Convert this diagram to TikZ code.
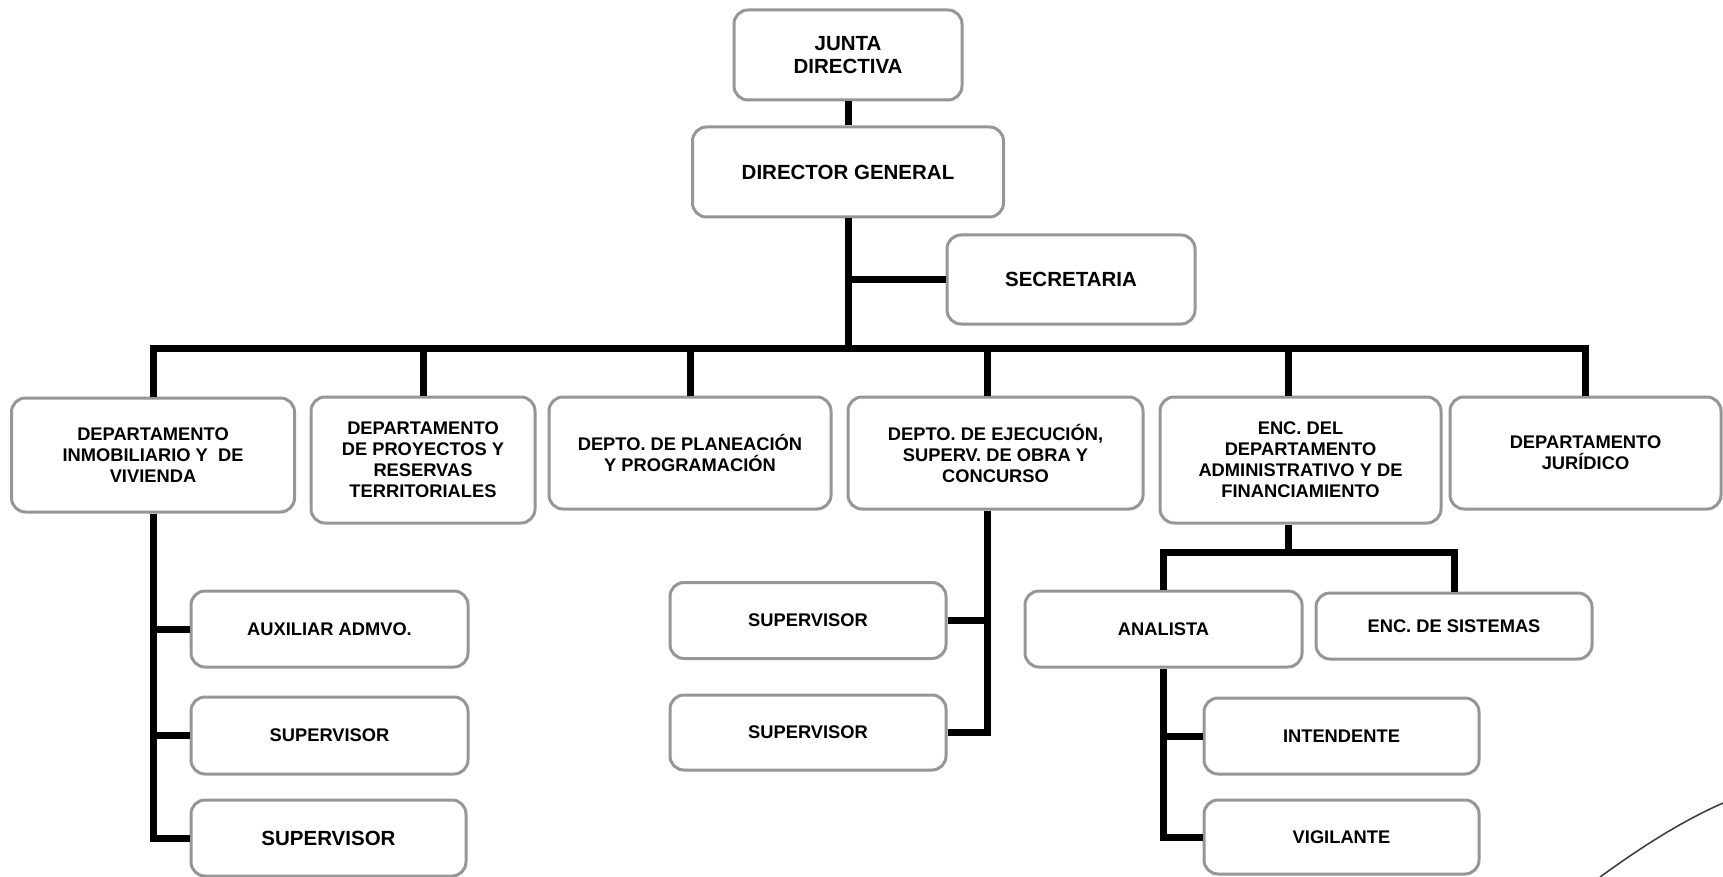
\documentclass[tikz,border=0pt]{standalone}
\usepackage{fontspec}
\setmainfont{Liberation Sans}
\definecolor{boxgray}{HTML}{969696}
\begin{document}
\begin{tikzpicture}[x=1pt,y=-1pt,
  box/.style={draw=boxgray, line width=3pt, rounded corners=14pt, fill=white,
    align=center, inner sep=2pt, font=\bfseries\fontsize{18.3}{21}\selectfont},
  bigtxt/.style={font=\bfseries\fontsize{20.5}{23.5}\selectfont},
  conn/.style={draw=black, line width=7pt, line join=miter}]
\useasboundingbox (0,0) rectangle (1723,877);
% top
\node[box,bigtxt,minimum width=228pt,minimum height=90pt] (junta) at (848,55) {JUNTA\\DIRECTIVA};
\node[box,bigtxt,minimum width=311pt,minimum height=90pt] (dir) at (848,172) {DIRECTOR GENERAL};
\node[box,bigtxt,minimum width=248pt,minimum height=89pt] (sec) at (1071,279.5) {SECRETARIA};
% level 2
\node[box,minimum width=283pt,minimum height=114pt] (b1) at (153,455) {DEPARTAMENTO\\INMOBILIARIO Y \ DE\\VIVIENDA};
\node[box,minimum width=224pt,minimum height=126pt] (b2) at (423,460) {DEPARTAMENTO\\DE PROYECTOS Y\\RESERVAS\\TERRITORIALES};
\node[box,minimum width=282pt,minimum height=112pt] (b3) at (690,453) {DEPTO. DE PLANEACIÓN\\Y PROGRAMACIÓN};
\node[box,minimum width=295pt,minimum height=112pt] (b4) at (995.5,453) {DEPTO. DE EJECUCIÓN,\\SUPERV. DE OBRA Y\\CONCURSO};
\node[box,minimum width=281pt,minimum height=126pt] (b5) at (1300.5,460) {ENC. DEL\\DEPARTAMENTO\\ADMINISTRATIVO Y DE\\FINANCIAMIENTO};
\node[box,minimum width=271pt,minimum height=112pt] (b6) at (1585.5,453) {DEPARTAMENTO\\JURÍDICO};
% level 3
\node[box,minimum width=277pt,minimum height=76pt] (aux) at (329.5,629) {AUXILIAR ADMVO.};
\node[box,minimum width=277pt,minimum height=77pt] (sup1) at (329.5,735.5) {SUPERVISOR};
\node[box,bigtxt,minimum width=275pt,minimum height=76pt] (sup2) at (328.5,838) {SUPERVISOR};
\node[box,minimum width=276pt,minimum height=76pt] (supa) at (808,620.5) {SUPERVISOR};
\node[box,minimum width=276pt,minimum height=75pt] (supb) at (808,732.5) {SUPERVISOR};
\node[box,minimum width=277pt,minimum height=76pt] (ana) at (1163.5,629) {ANALISTA};
\node[box,minimum width=276pt,minimum height=66pt] (enc) at (1454,626) {ENC. DE SISTEMAS};
\node[box,minimum width=275pt,minimum height=76pt] (int) at (1341.5,736) {INTENDENTE};
\node[box,minimum width=275pt,minimum height=74pt] (vig) at (1341.5,837) {VIGILANTE};
% helper coordinates
\coordinate (bus) at (0,348);
\coordinate (hb5) at (0,552);
\coordinate (b4d) at ([xshift=-8pt]b4.south);
\coordinate (b4u) at ([xshift=-8pt]b4.north);
\coordinate (b5d) at ([xshift=-12pt]b5.south);
\coordinate (b5u) at ([xshift=-12pt]b5.north);
% connectors
\draw[conn] (junta.south) -- (dir.north);
\draw[conn] (dir.south) -- (dir.south |- bus);
\draw[conn] (dir.south |- sec.west) -- (sec.west);
\draw[conn] (b1.north) -- (b1.north |- bus) -- (b6.north |- bus) -- (b6.north);
\draw[conn] (b2.north |- bus) -- (b2.north);
\draw[conn] (b3.north |- bus) -- (b3.north);
\draw[conn] (b4u |- bus) -- (b4u);
\draw[conn] (b5u |- bus) -- (b5u);
% left branch
\draw[conn] (b1.south) -- (b1.south |- sup2.west) -- (sup2.west);
\draw[conn] (b1.south |- aux.west) -- (aux.west);
\draw[conn] (b1.south |- sup1.west) -- (sup1.west);
% middle branch
\draw[conn] (b4d) -- (b4d |- supb.east) -- (supb.east);
\draw[conn] (b4d |- supa.east) -- (supa.east);
% right branch
\draw[conn] (b5d) -- (b5d |- hb5);
\draw[conn] (ana.north) -- (ana.north |- hb5) -- (enc.north |- hb5) -- (enc.north);
\draw[conn] (ana.south) -- (ana.south |- vig.west) -- (vig.west);
\draw[conn] (ana.south |- int.west) -- (int.west);
% stray stroke at bottom right
\draw[line width=1.6pt, black!75] (1600,877) .. controls (1640,848) and (1680,822) .. (1723,803);
\end{tikzpicture}
\end{document}
